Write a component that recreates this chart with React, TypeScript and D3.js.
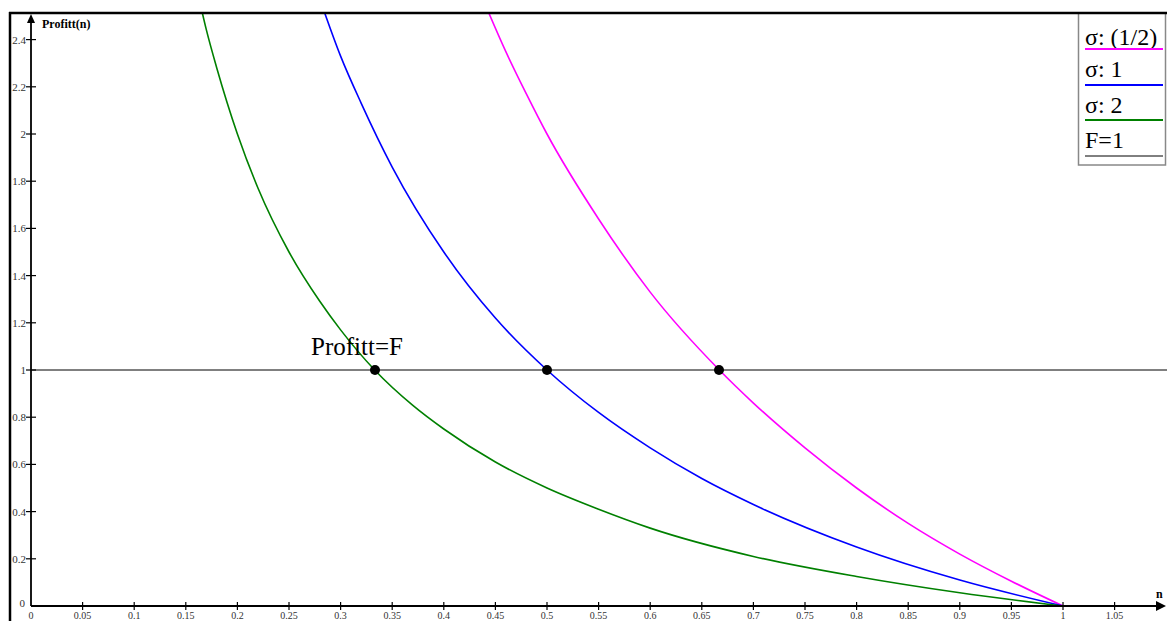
import * as d3 from "d3";
import { useEffect, useRef } from "react";

// values: n on the x axis, profit on the y axis
const nGreen = [0.16, 0.17, 0.18, 0.2, 0.22, 0.25, 0.28, 0.3, 0.333, 0.37, 0.4, 0.45, 0.5, 0.55, 0.6, 0.7, 0.8, 0.9, 1];
const profitGreen = [2.63, 2.44, 2.28, 2.0, 1.77, 1.5, 1.29, 1.17, 1.0, 0.85, 0.75, 0.61, 0.5, 0.41, 0.33, 0.21, 0.125, 0.056, 0];

const nBlue = [0.28, 0.3, 0.32, 0.35, 0.4, 0.45, 0.5, 0.55, 0.6, 0.65, 0.7, 0.8, 0.9, 1];
const profitBlue = [2.57, 2.33, 2.13, 1.86, 1.5, 1.22, 1.0, 0.82, 0.67, 0.54, 0.43, 0.25, 0.11, 0];

const nPink = [0.44, 0.46, 0.48, 0.5, 0.55, 0.6, 0.667, 0.7, 0.75, 0.8, 0.85, 0.9, 0.95, 1];
const profitPink = [2.55, 2.35, 2.17, 2.0, 1.64, 1.33, 1.0, 0.86, 0.67, 0.5, 0.35, 0.22, 0.105, 0];

const crossN = [1 / 3, 0.5, 2 / 3];
const fixedCost = 1;

const xTicks = [0.05, 0.1, 0.15, 0.2, 0.25, 0.3, 0.35, 0.4, 0.45, 0.5, 0.55, 0.6, 0.65, 0.7, 0.75, 0.8, 0.85, 0.9, 0.95, 1, 1.05];
const yTicks = [0.2, 0.4, 0.6, 0.8, 1, 1.2, 1.4, 1.6, 1.8, 2, 2.2, 2.4];

const legendLabels = ["σ: (1/2)", "σ: 1", "σ: 2", "F=1"];
const legendColors = ["#ff00ff", "#0000ff", "#008000", "#000000"];

const SERIF = "Liberation Serif, DejaVu Serif, Times New Roman, serif";

export default function App() {
  const ref = useRef<SVGSVGElement | null>(null);
  useEffect(() => {
    if (!ref.current) return;
    const svg = d3.select(ref.current);
    svg.selectAll("*").remove();
    const W = 1167;
    const H = 621;
    const x = d3.scaleLinear().domain([0, 1]).range([31, 1063]);
    const y = d3.scaleLinear().domain([0, 1]).range([606, 370]);
    const x0 = x(0);
    const y0 = y(0);

    svg.append("rect").attr("width", W).attr("height", H).attr("fill", "#fff");

    svg
      .append("defs")
      .append("clipPath")
      .attr("id", "plotClip")
      .append("rect")
      .attr("x", x0)
      .attr("y", 13)
      .attr("width", W - x0)
      .attr("height", y0 - 13);

    // horizontal F line
    svg
      .append("line")
      .attr("x1", x0)
      .attr("x2", W)
      .attr("y1", y(fixedCost))
      .attr("y2", y(fixedCost))
      .attr("stroke", "#000")
      .attr("stroke-width", 1);

    // curves
    const series: [number[], number[], string][] = [
      [nPink, profitPink, legendColors[0]],
      [nBlue, profitBlue, legendColors[1]],
      [nGreen, profitGreen, legendColors[2]],
    ];
    const g = svg.append("g").attr("clip-path", "url(#plotClip)");
    series.forEach(([ns, ps, color]) => {
      const line = d3
        .line<number>()
        .x((_, i) => x(ns[i]))
        .y((d) => y(d))
        .curve(d3.curveMonotoneX);
      g.append("path")
        .attr("d", line(ps) ?? "")
        .attr("fill", "none")
        .attr("stroke", color)
        .attr("stroke-width", 1.6);
    });

    // axes
    svg.append("line").attr("x1", x0).attr("x2", W - 6).attr("y1", y0).attr("y2", y0).attr("stroke", "#000").attr("stroke-width", 1.8);
    svg.append("path").attr("d", `M${W - 1},${y0} L${W - 11},${y0 - 5} L${W - 11},${y0 + 5} Z`).attr("fill", "#000");
    svg.append("line").attr("x1", x0).attr("x2", x0).attr("y1", y0).attr("y2", 20).attr("stroke", "#000").attr("stroke-width", 1.8);
    svg.append("path").attr("d", `M${x0},14 L${x0 - 4},23 L${x0 + 4},23 Z`).attr("fill", "#000");

    xTicks.forEach((t) => {
      svg.append("line").attr("x1", x(t)).attr("x2", x(t)).attr("y1", y0 - 4).attr("y2", y0 + 4).attr("stroke", "#000").attr("stroke-width", 1.2);
    });
    [0, ...xTicks].forEach((t) => {
      svg
        .append("text")
        .attr("x", x(t))
        .attr("y", 619)
        .attr("text-anchor", "middle")
        .style("font-family", SERIF)
        .style("font-size", "10px")
        .attr("fill", "#333")
        .text(String(t));
    });
    yTicks.forEach((t) => {
      svg.append("line").attr("x1", x0 - 5).attr("x2", x0 + 5).attr("y1", y(t)).attr("y2", y(t)).attr("stroke", "#000").attr("stroke-width", 1.2);
    });
    [0, ...yTicks].forEach((t) => {
      svg
        .append("text")
        .attr("x", t === 0 ? 25 : 26)
        .attr("y", t === 0 ? y(t) + 1 : y(t) + 4)
        .attr("text-anchor", "end")
        .style("font-family", SERIF)
        .style("font-size", "11px")
        .attr("fill", "#333")
        .text(String(t));
    });

    svg.append("text").attr("x", 42).attr("y", 28).style("font-family", SERIF).style("font-weight", "bold").style("font-size", "12px").text("Profitt(n)");
    svg.append("text").attr("x", 1156).attr("y", 598).style("font-family", SERIF).style("font-weight", "bold").style("font-size", "12px").text("n");

    // intersection points
    crossN.forEach((n) => {
      svg.append("circle").attr("cx", x(n)).attr("cy", y(fixedCost)).attr("r", 5).attr("fill", "#000");
    });
    svg.append("text").attr("x", 311).attr("y", 355).style("font-family", SERIF).style("font-size", "25px").attr("fill", "#000").text("Profitt=F");

    // legend
    svg.append("rect").attr("x", 1078.5).attr("y", 13).attr("width", 87).attr("height", 152).attr("fill", "#fff").attr("stroke", "#888").attr("stroke-width", 1.5);
    const legendBase = [45, 77, 113, 148];
    const legendLine = [49, 85, 120, 156];
    legendLabels.forEach((lab, i) => {
      svg.append("text").attr("x", 1085).attr("y", legendBase[i]).style("font-family", SERIF).style("font-size", "24px").attr("fill", "#000").text(lab);
      svg
        .append("line")
        .attr("x1", 1085)
        .attr("x2", 1163)
        .attr("y1", legendLine[i])
        .attr("y2", legendLine[i])
        .attr("stroke", legendColors[i])
        .attr("stroke-width", i === 3 ? 1 : 2);
    });

    // outer frame
    svg.append("line").attr("x1", 9).attr("x2", W).attr("y1", 13).attr("y2", 13).attr("stroke", "#000").attr("stroke-width", 2.5);
    svg.append("line").attr("x1", 10).attr("x2", 10).attr("y1", 12).attr("y2", H).attr("stroke", "#000").attr("stroke-width", 2.5);
  }, []);
  return <svg ref={ref} width={1167} height={621} style={{ position: "absolute", left: 0, top: 0 }} />;
}
